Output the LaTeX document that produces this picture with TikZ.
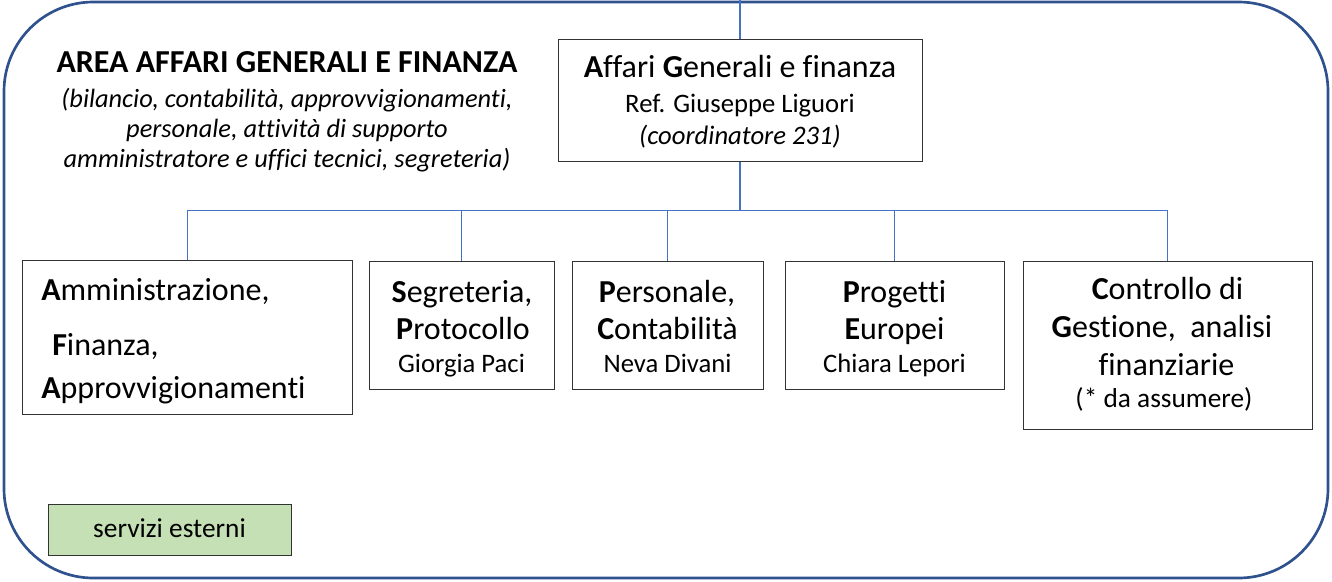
\documentclass[tikz,border=0pt]{standalone}
\usepackage{fontspec}
\setmainfont{Carlito}[Ligatures=NoCommon]
\definecolor{frameblue}{HTML}{2F528F}
\definecolor{lineblue}{HTML}{4472C4}
\definecolor{boxgreen}{HTML}{C5E0B4}
\begin{document}
\begin{tikzpicture}[x=0.75pt,y=-0.75pt,
  unit/.style={draw=black!80, line width=0.75pt, fill=white, inner sep=0pt},
  conn/.style={draw=lineblue, line width=0.75pt},
  ln/.style={anchor=base, inner sep=0pt, font=\fontsize{24}{28}\selectfont},
  lnl/.style={anchor=base west, inner sep=0pt, font=\fontsize{24}{28}\selectfont},
  sm/.style={anchor=base, inner sep=0pt, font=\fontsize{20}{24}\selectfont},
]
\useasboundingbox (0,0) rectangle (1332,582);
\draw[frameblue, line width=2pt, rounded corners=67pt] (4,2) rectangle (1328,578);

% title
\node[align=center, inner sep=0pt, font=\fontsize{19.8}{22.5}\selectfont] (title) at (287,112) {%
  \fontsize{24}{26}\selectfont\bfseries AREA AFFARI GENERALI E FINANZA\\[3.75pt]
  \itshape (bilancio, contabilità, approvvigionamenti,\\
  \itshape personale, attività di supporto\\
  \itshape amministratore e uffici tecnici, segreteria)};

% boxes
\node[unit, minimum width=364*0.75pt, minimum height=122*0.75pt] (top) at (740,100) {};
\node[unit, minimum width=330*0.75pt, minimum height=154*0.75pt] (amm) at (187,337.5) {};
\node[unit, minimum width=185*0.75pt, minimum height=128*0.75pt] (seg) at (461.5,325.5) {};
\node[unit, minimum width=191*0.75pt, minimum height=128*0.75pt] (pers) at (667.5,325) {};
\node[unit, minimum width=219*0.75pt, minimum height=128*0.75pt] (prog) at (894.5,325) {};
\node[unit, minimum width=289*0.75pt, minimum height=168*0.75pt] (ctrl) at (1167.5,345) {};
\node[unit, fill=boxgreen, minimum width=243*0.75pt, minimum height=51*0.75pt] (ext) at (169.5,529.5) {};

% texts
\node[ln] (top1) at (740,77) {\textbf{A}ffari \textbf{G}enerali e finanza};
\node[sm] (top2) at (740,112) {Ref. Giuseppe Liguori};
\node[sm, font=\fontsize{20}{24}\selectfont\itshape] (top3) at (740,144) {(coordinatore 231)};

\node[lnl] (amm1) at (41,300) {\textbf{A}mministrazione,};
\node[lnl] (amm2) at (52,355) {\textbf{F}inanza,};
\node[lnl] (amm3) at (41,398) {\textbf{A}pprovvigionamenti};

\node[ln] (seg1) at (462,302) {\textbf{S}egreteria,};
\node[ln] (seg2) at (463,339) {\textbf{P}rotocollo};
\node[sm] (seg3) at (461.5,372) {Giorgia Paci};

\node[ln] (pers1) at (667,302) {\textbf{P}ersonale,};
\node[ln] (pers2) at (667.5,339) {\textbf{C}ontabilità};
\node[sm] (pers3) at (667.5,372) {Neva Divani};

\node[ln] (prog1) at (894.5,302) {\textbf{P}rogetti};
\node[ln] (prog2) at (894.5,339) {\textbf{E}uropei};
\node[sm] (prog3) at (894.5,372) {Chiara Lepori};

\node[ln] (ctrl1) at (1167.5,299) {\textbf{C}ontrollo di};
\node[ln] (ctrl2) at (1162,337) {\textbf{G}estione,\ \ analisi};
\node[ln] (ctrl3) at (1166.5,375) {finanziarie};
\node[sm, font=\fontsize{20.5}{24}\selectfont] (ctrl4) at (1164,407) {(* da assumere)};

\node[anchor=base, inner sep=0pt, font=\fontsize{20.5}{24}\selectfont] (extt) at (169.5,537) {servizi esterni};

% connectors
\coordinate (topin) at (740,0);
\coordinate (bus) at (740,210);
\draw[conn, line width=1.1pt] (topin) -- (top.north);
\draw[conn, line width=1.1pt] (top.south) -- (bus);
\draw[conn] (amm.north) |- (bus);
\draw[conn] (ctrl.north) |- (bus);
\draw[conn] (seg.north) -- (seg.north |- bus);
\draw[conn] (pers.north) -- (pers.north |- bus);
\draw[conn] (prog.north) -- (prog.north |- bus);
\end{tikzpicture}
\end{document}
